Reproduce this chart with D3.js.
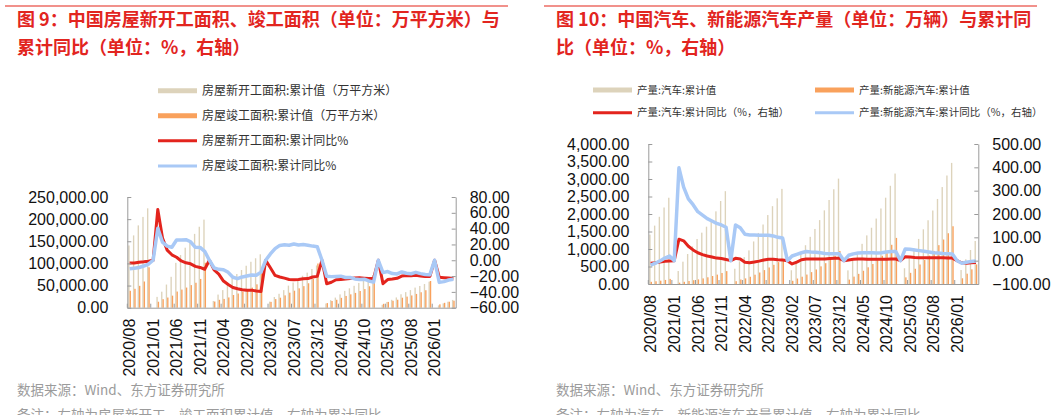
<!DOCTYPE html>
<html lang="zh">
<head>
<meta charset="UTF-8">
<title>房屋新开工、竣工面积与汽车产量</title>
<script src="https://d3js.org/d3.v7.min.js"></script>
<style>
  body { margin: 0; background: #fff; }
  svg { display: block; }
  .num { font-family: "Liberation Sans", Arial, sans-serif; font-size: 16px; fill: #111; }
  .cn { font-family: "Noto Sans CJK SC", "Noto Sans", sans-serif; }
</style>
</head>
<body>
<svg id="chart" width="1060" height="415"></svg>
<script>
// categories: 2020/08 .. 2026/05
const months = [
  "2020/08","2020/09","2020/10","2020/11","2020/12",
  "2021/01","2021/02","2021/03","2021/04","2021/05","2021/06","2021/07","2021/08","2021/09","2021/10","2021/11","2021/12",
  "2022/01","2022/02","2022/03","2022/04","2022/05","2022/06","2022/07","2022/08","2022/09","2022/10","2022/11","2022/12",
  "2023/01","2023/02","2023/03","2023/04","2023/05","2023/06","2023/07","2023/08","2023/09","2023/10","2023/11","2023/12",
  "2024/01","2024/02","2024/03","2024/04","2024/05","2024/06","2024/07","2024/08","2024/09","2024/10","2024/11","2024/12",
  "2025/01","2025/02","2025/03","2025/04","2025/05","2025/06","2025/07","2025/08","2025/09","2025/10","2025/11","2025/12",
  "2026/01","2026/02","2026/03","2026/04","2026/05"
];
const tickMonths = ["2020/08","2021/01","2021/06","2021/11","2022/04","2022/09","2023/02",
  "2023/07","2023/12","2024/05","2024/10","2025/03","2025/08","2026/01"];

// 图9: 房屋新开工 / 竣工面积 累计值 (万平方米)
const houseStart = [
  140580, 163273, 185928, 205048, 224433,
  null, 24431, 36163, 52291, 69787, 101288, 118948, 135502, 152944, 166736, 182820, 198895,
  null, 15237, 29638, 39739, 52194, 66423, 76091, 85122, 94767, 103722, 111632, 120587,
  null, 13658, 24121, 31429, 39723, 49880, 56969, 63891, 72123, 79177, 87456, 95376,
  null, 9429, 17026, 22811, 30090, 38023, 43731, 49476, 55996, 61227, 66628, 73893,
  null, 6623, 12996, 17836, 23184, 30364, 35206, 39801, 45399, 49061, 53457, 58770,
  null, 5200, 9800, 13500, 17600
];
const houseDone = [
  38200, 42700, 49371, 59173, 91218,
  null, 13474, 19249, 22981, 27214, 36481, 40932, 45463, 51013, 56364, 64934, 101412,
  null, 13906, 17789, 19839, 23191, 28636, 32028, 36237, 40879, 45406, 52803, 86222,
  null, 13178, 19422, 22605, 27826, 33904, 38405, 43726, 48705, 55151, 65237, 99831,
  null, 10395, 15154, 17911, 22245, 26519, 30193, 33443, 37721, 42038, 48444, 73743,
  null, 8800, 13060, 15648, 18019, 22567, 25034, 27694, 31129, 34861, 39454, 60300,
  null, 7600, 11000, 13500, 15800
];
// 累计同比 %
const houseStartYoy = [
  -3.6, -3.4, -2.6, -2.0, -1.2,
  0, 64.3, 28.2, 12.8, 6.9, 3.8, -0.9, -3.2, -4.5, -7.7, -9.1, -11.4,
  0, -12.2, -17.5, -26.3, -30.6, -34.4, -36.1, -37.2, -38.0, -37.8, -38.9, -39.4,
  0, -9.4, -19.2, -21.2, -22.6, -24.3, -24.5, -24.4, -23.4, -23.2, -21.2, -20.4,
  0, -29.7, -27.8, -24.6, -24.2, -23.7, -23.2, -22.5, -22.2, -22.6, -23.0, -23.0,
  0, -29.6, -24.4, -23.8, -22.8, -20.0, -19.4, -19.5, -18.9, -19.8, -20.5, -20.4,
  0, -21.5, -22.0, -22.5, -23.0
];
const houseDoneYoy = [
  -10.8, -10.0, -9.2, -7.3, -4.9,
  0, 40.4, 22.9, 17.9, 16.4, 25.7, 25.7, 26.0, 23.4, 16.3, 16.2, 11.2,
  0, -9.8, -11.5, -11.9, -15.3, -21.5, -23.3, -21.1, -19.9, -18.7, -19.0, -15.0,
  0, 8.0, 14.7, 18.8, 19.6, 19.0, 20.5, 19.2, 19.8, 19.0, 17.9, 17.0,
  0, -20.2, -20.7, -20.4, -20.1, -21.8, -21.8, -23.6, -24.4, -23.9, -26.2, -27.7,
  0, -15.6, -14.3, -16.9, -17.3, -14.8, -16.5, -17.0, -15.3, -16.9, -18.0, -18.2,
  0, -28.0, -27.0, -25.0, -24.0
];

// 图10: 汽车 / 新能源汽车 产量累计值 (万辆)
const autoOutput = [
  1411, 1668, 1920, 2186, 2465,
  null, 371, 638, 857, 1076, 1286, 1467, 1638, 1848, 2076, 2371, 2652,
  null, 436, 648, 768, 961, 1216, 1459, 1700, 1970, 2224, 2448, 2718,
  null, 393, 660, 868, 1108, 1348, 1573, 1826, 2104, 2400, 2707, 3011,
  null, 390, 668, 905, 1148, 1389, 1607, 1870, 2158, 2466, 2806, 3156,
  null, 450, 759, 1016, 1288, 1562, 1821, 2100, 2430, 2770, 3100, 3460,
  null, 400, 705, 971, 1229
];
const nevOutput = [
  62, 78, 95, 116, 146,
  null, 38, 63, 85, 108, 131, 160, 192, 229, 268, 315, 368,
  null, 80, 129, 160, 207, 266, 328, 397, 472, 548, 625, 700,
  null, 92, 156, 208, 270, 339, 415, 504, 595, 695, 808, 944,
  null, 125, 211, 290, 378, 477, 571, 677, 806, 946, 1120, 1317,
  null, 190, 319, 435, 557, 685, 810, 945, 1110, 1270, 1450, 1650,
  null, 163, 295, 419, 560
];
const autoYoy = [
  -11, -9, -6, -3, -1.4,
  0, 92, 85, 62, 46, 34, 26, 20, 16, 11, 9, 5,
  0, 10, 7, -7, -9, -6, -2, 3, 6, 6, 4, 3,
  0, -14, -6, 4, 7, 7, 7, 7, 7, 9, 10, 10,
  0, 3, 6, 7, 7, 6, 6, 6, 6, 6, 7, 7,
  0, 17, 16, 14, 13, 13, 12, 12, 12, 12, 11, 11,
  0, -9, -11, -9, -8
];
const nevYoy = [
  -19, -11, -1, 11, 20,
  0, 398, 315, 265, 240, 210, 195, 180, 170, 160, 153, 143,
  0, 153, 141, 113, 110, 110, 109, 109, 109, 106, 100, 97,
  0, 20, 27, 34, 39, 37, 36, 34, 31, 30, 30, 30,
  0, 23, 29, 33, 34, 34, 34, 33, 34, 37, 39, 39,
  0, 50, 49, 46, 43, 40, 37, 34, 33, 31, 30, 29,
  0, -11, -7, -4, -1
];

const leftTicks1 = [0, 50000, 100000, 150000, 200000, 250000];
const rightTicks1 = [-60, -40, -20, 0, 20, 40, 60, 80];
const leftTicks2 = [0, 500, 1000, 1500, 2000, 2500, 3000, 3500, 4000];
const rightTicks2 = [-100, 0, 100, 200, 300, 400, 500];

const colors = { beige: "#ddd3bb", orange: "#f9a15c", red: "#e3241d", blue: "#a9c9f6", axis: "#9a9a9a", title: "#e2251f" };

const svg = d3.select("#chart");
svg.append("rect").attr("width", 1060).attr("height", 415).attr("fill", "#fff");

const fmt = d3.format(",.2f");

function drawPanel(o) {
  const g = svg.append("g");

  // top rule + title
  g.append("line").attr("x1", o.ruleX0).attr("x2", o.ruleX1).attr("y1", 6).attr("y2", 6)
    .attr("stroke", "#f1918b").attr("stroke-width", 2);
  o.title.forEach((t, i) => {
    g.append("text").attr("class", "cn").attr("x", o.titleX).attr("y", 26 + i * 28)
      .attr("fill", colors.title).attr("font-size", "18px").attr("font-weight", "bold").text(t);
  });

  const x = d3.scaleBand().domain(months).range([o.left, o.right]);
  const bw = x.bandwidth();
  const xs = d3.scaleBand().domain(["a", "b"]).range([bw * 0.2, bw * 0.78]);
  const yL = d3.scaleLinear().domain([o.leftTicks[0], o.leftTicks[o.leftTicks.length - 1]]).range([o.bottom, o.top]);
  const yR = d3.scaleLinear().domain([o.rightTicks[0], o.rightTicks[o.rightTicks.length - 1]]).range([o.bottom, o.top]);

  // bars
  [["a", o.barA, colors.beige], ["b", o.barB, colors.orange]].forEach(([k, vals, c]) => {
    g.append("g").selectAll("rect")
      .data(months.map((m, i) => ({ m, v: vals[i] })).filter(d => d.v != null))
      .join("rect")
      .attr("x", d => x(d.m) + xs(k))
      .attr("width", xs.bandwidth())
      .attr("y", d => yL(d.v))
      .attr("height", d => yL(0) - yL(d.v))
      .attr("fill", c);
  });

  // lines (nulls skipped, points connected)
  const line = vals => d3.line()
    .x(i => x(months[i]) + bw / 2)
    .y(i => yR(vals[i]))(d3.range(months.length).filter(i => vals[i] != null));
  g.append("path").attr("d", line(o.lineA)).attr("fill", "none")
    .attr("stroke", colors.red).attr("stroke-width", 3).attr("stroke-linejoin", "round");
  g.append("path").attr("d", line(o.lineB)).attr("fill", "none")
    .attr("stroke", colors.blue).attr("stroke-width", 3.5).attr("stroke-linejoin", "round");

  // left axis
  const ga = g.append("g").attr("transform", `translate(${o.left},0)`)
    .call(d3.axisLeft(yL).tickValues(o.leftTicks).tickFormat(fmt).tickSizeInner(-4).tickSizeOuter(0).tickPadding(19));
  // right axis
  const gb = g.append("g").attr("transform", `translate(${o.right},0)`)
    .call(d3.axisRight(yR).tickValues(o.rightTicks).tickFormat(fmt).tickSizeInner(-4).tickSizeOuter(0).tickPadding(14));
  [ga, gb].forEach(a => {
    a.selectAll("path, line").attr("stroke", colors.axis);
    a.selectAll("text").attr("class", "num").attr("font-size", null).attr("font-family", null);
  });

  // bottom axis: labels at category centres, ticks at category edges
  const gx = g.append("g").attr("transform", `translate(0,${o.bottom})`)
    .call(d3.axisBottom(x).tickValues(tickMonths).tickSize(0).tickPadding(0));
  gx.select(".domain").attr("stroke", colors.axis);
  gx.selectAll("text").attr("class", "num").attr("font-size", null).attr("font-family", null)
    .attr("y", 0).attr("dy", "0.36em").attr("text-anchor", "end")
    .attr("transform", `translate(0,${o.labelGap}) rotate(-90)`);
  gx.selectAll(".edge").data(tickMonths).join("line").attr("class", "edge")
    .attr("x1", d => x(d)).attr("x2", d => x(d)).attr("y1", 0).attr("y2", -4)
    .attr("stroke", colors.axis);

  // legend
  o.legend.forEach(l => {
    g.append("line").attr("x1", l.x).attr("x2", l.x + 39).attr("y1", l.y).attr("y2", l.y)
      .attr("stroke", l.color).attr("stroke-width", l.w);
    g.append("text").attr("class", "cn").attr("x", l.x + 44).attr("y", l.y).attr("dy", "0.35em")
      .attr("font-size", o.legendSize).attr("fill", "#333").text(l.text);
  });

  // source + note
  g.append("text").attr("class", "cn").attr("x", o.titleX).attr("y", 395)
    .attr("font-size", "13.5px").attr("fill", "#9b9b9b").text("数据来源：Wind、东方证券研究所");
  g.append("text").attr("class", "cn").attr("x", o.titleX).attr("y", 420)
    .attr("font-size", "13.5px").attr("fill", "#9b9b9b").text(o.note);
}

drawPanel({
  ruleX0: 5, ruleX1: 508, titleX: 17,
  title: ["图 9：中国房屋新开工面积、竣工面积（单位：万平方米）与", "累计同比（单位：%，右轴）"],
  left: 127.3, right: 455.7, top: 197, bottom: 307.7, labelGap: 11,
  leftTicks: leftTicks1, rightTicks: rightTicks1,
  barA: houseStart, barB: houseDone, lineA: houseStartYoy, lineB: houseDoneYoy,
  legendSize: "12px",
  legend: [
    { x: 158, y: 90.7, color: colors.beige, w: 5, text: "房屋新开工面积:累计值（万平方米）" },
    { x: 158, y: 115.7, color: colors.orange, w: 5, text: "房屋竣工面积:累计值（万平方米）" },
    { x: 158, y: 140.7, color: colors.red, w: 3, text: "房屋新开工面积:累计同比%" },
    { x: 158, y: 166, color: colors.blue, w: 3, text: "房屋竣工面积:累计同比%" }
  ],
  note: "备注：左轴为房屋新开工、竣工面积累计值，右轴为累计同比"
});

drawPanel({
  ruleX0: 544, ruleX1: 1037, titleX: 556,
  title: ["图 10：中国汽车、新能源汽车产量（单位：万辆）与累计同", "比（单位：%，右轴）"],
  left: 648.3, right: 978.3, top: 144, bottom: 284, labelGap: 11,
  leftTicks: leftTicks2, rightTicks: rightTicks2,
  barA: autoOutput, barB: nevOutput, lineA: autoYoy, lineB: nevYoy,
  legendSize: "10.5px",
  legend: [
    { x: 593, y: 90, color: colors.beige, w: 5, text: "产量:汽车:累计值" },
    { x: 815, y: 90, color: colors.orange, w: 5, text: "产量:新能源汽车:累计值" },
    { x: 593, y: 112.7, color: colors.red, w: 3, text: "产量:汽车:累计同比（%，右轴）" },
    { x: 815, y: 112.7, color: colors.blue, w: 3, text: "产量:新能源汽车:累计同比（%，右轴）" }
  ],
  note: "备注：左轴为汽车、新能源汽车产量累计值，右轴为累计同比"
});
</script>
</body>
</html>
